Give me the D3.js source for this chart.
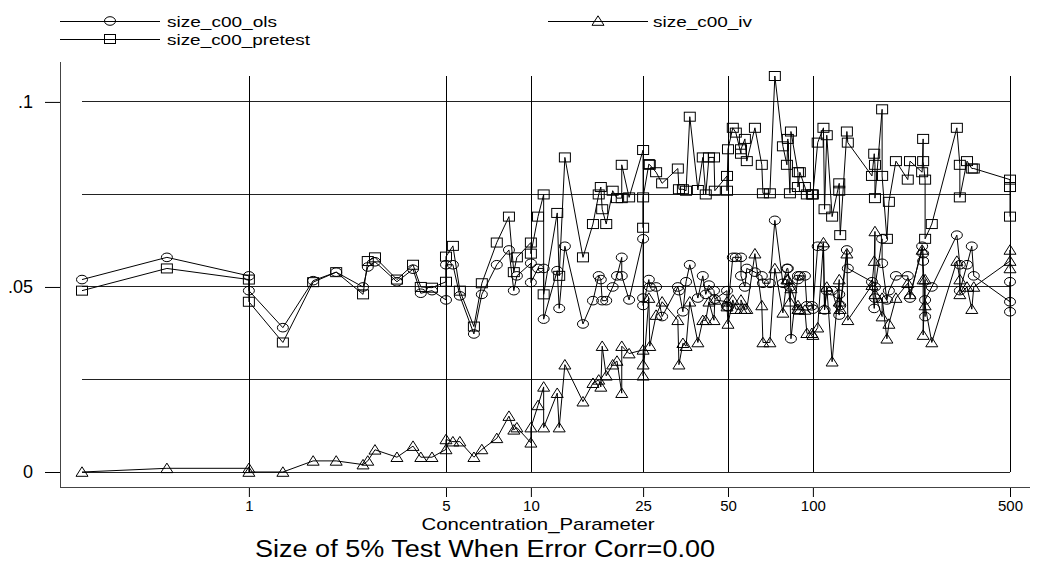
<!DOCTYPE html>
<html><head><meta charset="utf-8">
<script src="https://cdn.jsdelivr.net/npm/d3@7"></script>
<style>body{margin:0;background:#fff} svg{display:block}</style>
</head><body><svg id="c" width="1037" height="566"></svg>
<script>
const conc = [0.256,0.512,1,1,1.32,1.69,2.04,2.54,2.64,2.80,3.35,3.82,4.07,4.46,5,5,5.29,5.60,6.28,6.70,7.57,8.36,8.70,8.92,10,10,10.6,11.1,11.1,12.4,12.6,13.2,15.3,16.6,17.4,17.7,17.9,18.5,19.5,20.2,21.0,21.0,22.3,25,25,25,26.2,26.4,27.8,29.2,33.2,33.5,34.6,35.5,36.6,39.1,40.7,41.7,42.8,44.6,44.9,49.6,49.6,50,52.0,53.3,55.6,55.6,57.4,58.3,62.3,65.9,66.5,70.4,73.3,78.3,80.9,81.5,82.9,83.6,88.5,88.5,89.9,93.7,95.2,99.2,100,104,109,110,112,117,124,124,125,132,133,162,165,166,166,176,176,183,186,197,217,221,244,246,246,250,250,264,324,332,332,352,366,372,500,500,500];
const sizeOls = [.052,.058,.053,.049,.039,.0517,.054,.050,.0554,.0568,.0514,.0548,.0483,.049,.0465,.056,.056,.0476,.0373,.048,.056,.060,.049,.053,.0564,.0512,.055,.055,.0413,.0544,.0442,.061,.040,.0463,.053,.052,.0463,.0463,.050,.053,.058,.053,.0465,.063,.047,.045,.052,.050,.050,.042,.050,.049,.0433,.0514,.056,.047,.053,.048,.0505,.049,.0467,.049,.0447,.0447,.058,.058,.058,.053,.050,.055,.054,.053,.051,.051,.068,.051,.055,.055,.050,.036,.053,.052,.053,.053,.0449,.0449,.044,.061,.061,.0438,.049,.049,.0424,.048,.045,.060,.055,.0514,.0442,.047,.050,.063,.0564,.0465,.049,.053,.053,.047,.061,.059,.057,.042,.0465,.050,.064,.056,.049,.056,.061,.053,.046,.0514,.0433];
const sizePretest = [.049,.055,.052,.046,.035,.0513,.054,.048,.057,.058,.052,.056,.050,.0498,.0514,.0582,.0611,.049,.0393,.051,.062,.069,.054,.058,.062,.059,.069,.075,.048,.070,.053,.085,.058,.067,.075,.077,.071,.067,.076,.074,.074,.083,.0742,.087,.066,.0742,.0832,.083,.081,.078,.082,.0764,.0764,.076,.096,.0762,.085,.075,.085,.085,.076,.080,.076,.0872,.093,.0917,.086,.0872,.090,.084,.093,.083,.0753,.0753,.107,.088,.083,.090,.0753,.092,.081,.077,.081,.077,.075,.075,.075,.089,.093,.071,.091,.069,.078,.076,.064,.092,.089,.080,.086,.083,.074,.098,.080,.063,.073,.084,.079,.084,.081,.090,.084,.079,.063,.067,.093,.083,.0742,.084,.082,.082,.079,.077,.069];
const sizeIv = [0,.001,.001,0,0,.003,.003,.002,.003,.006,.004,.007,.004,.004,.0061,.0088,.0082,.0082,.004,.0061,.0091,.0151,.0114,.012,.0079,.012,.018,.023,.012,.0213,.012,.029,.019,.024,.0249,.023,.034,.026,.029,.030,.0213,.034,.032,.033,.029,.026,.047,.034,.0424,.046,.041,.029,.0348,.034,.046,.035,.041,.041,.046,.041,.0465,.046,.0447,.040,.0465,.044,.044,.0465,.044,.044,.059,.045,.035,.035,.055,.043,.052,.052,.046,.0496,.044,.045,.0438,.0438,.0375,.0375,.037,.039,.062,.044,.050,.0298,.052,.046,.044,.059,.041,.0505,.057,.065,.048,.042,.047,.036,.040,.047,.051,.048,.060,.052,.037,.052,.045,.035,.057,.052,.048,.050,.044,.050,.057,.060,.055];
const xTickValues = [1,5,10,25,50,100,500];
const xTickLabels = ["1","5","10","25","50","100","500"];
const yTickValues = [0,0.05,0.1];
const yTickLabels = ["0",".05",".1"];
const yGridValues = [0,0.025,0.05,0.075,0.1];
const seriesNames = ["size_c00_ols","size_c00_pretest","size_c00_iv"];
const xTitle = "Concentration_Parameter";
const chartTitle = "Size of 5% Test When Error Corr=0.00";

const svg = d3.select("#c");
const FONT = "'Liberation Sans', Arial, Helvetica, sans-serif";
const x = d3.scaleLog().domain([d3.min(conc), d3.max(conc)]).range([82, 1010]);
const y = d3.scaleLinear().domain([0, d3.max(sizePretest)]).range([472, 76]);

// grid
const g = svg.append("g");
g.selectAll(".hg").data(yGridValues).join("line")
  .attr("x1", x.range()[0]).attr("x2", x.range()[1])
  .attr("y1", d => y(d)).attr("y2", d => y(d))
  .attr("stroke", "#222").attr("stroke-width", 1).attr("shape-rendering","crispEdges");
g.selectAll(".vg").data(xTickValues).join("line")
  .attr("x1", d => Math.round(x(d))+0.5).attr("x2", d => Math.round(x(d))+0.5)
  .attr("y1", y.range()[1]).attr("y2", y(0))
  .attr("stroke", "#000").attr("stroke-width", 1);

// axes
const axisY = d3.axisLeft(y).tickValues(yTickValues).tickSize(15).tickPadding(12)
  .tickFormat((d,i) => yTickLabels[i]);
const ay = svg.append("g").attr("transform","translate(60,0)").call(axisY);
ay.select(".domain").remove();
ay.selectAll("text").attr("font-family", FONT).attr("font-size", 18).attr("fill","#000");
ay.selectAll("line").attr("stroke","#000");
svg.append("line").attr("x1",60.5).attr("x2",60.5).attr("y1",62).attr("y2",487.5).attr("stroke","#444");

const axisX = d3.axisBottom(x).tickValues(xTickValues).tickSize(10).tickPadding(3)
  .tickFormat((d,i) => xTickLabels[i]);
const ax = svg.append("g").attr("transform","translate(0,487)").call(axisX);
ax.select(".domain").remove();
ax.selectAll("text").attr("font-family", FONT).attr("font-size", 15).attr("fill","#000");
ax.selectAll("line").attr("stroke","#000");
svg.append("line").attr("x1",60).attr("x2",1030).attr("y1",487.5).attr("y2",487.5).attr("stroke","#444");

svg.append("text").attr("x", 538).attr("y", 530).attr("text-anchor","middle")
  .attr("font-family", FONT).attr("font-size", 17)
  .attr("textLength", 233).attr("lengthAdjust", "spacingAndGlyphs").text(xTitle);
svg.append("text").attr("x", 485).attr("y", 557).attr("text-anchor","middle")
  .attr("font-family", FONT).attr("font-size", 23)
  .attr("textLength", 460).attr("lengthAdjust", "spacingAndGlyphs").text(chartTitle);

// markers
function marker(sel, type) {
  if (type === 0) return sel.append("ellipse").attr("rx", 5.5).attr("ry", 4.3);
  if (type === 1) return sel.append("rect").attr("x", -5.5).attr("y", -4.5).attr("width", 11).attr("height", 9);
  return sel.append("path").attr("d", "M0,-5.2L6,4.3L-6,4.3Z");
}
const seriesVals = [sizeOls, sizePretest, sizeIv];
const line = d3.line().x(d => x(d[0])).y(d => y(d[1]));
seriesVals.forEach((vals, si) => {
  const pts = conc.map((c, i) => [c, vals[i]]);
  svg.append("path").datum(pts).attr("d", line).attr("fill","none").attr("stroke","#000").attr("stroke-width",1);
  const mg = svg.append("g");
  pts.forEach(p => {
    const m = mg.append("g").attr("transform", `translate(${x(p[0])},${y(p[1])})`);
    marker(m, si).attr("fill","none").attr("stroke","#000").attr("stroke-width",1);
  });
});

// legend
const legend = [
  {name: seriesNames[0], x0: 60, y0: 21, type: 0, tx: 167, w: 110},
  {name: seriesNames[1], x0: 60, y0: 39, type: 1, tx: 167, w: 143},
  {name: seriesNames[2], x0: 548, y0: 21, type: 2, tx: 653, w: 99}
];
legend.forEach(l => {
  svg.append("line").attr("x1", l.x0).attr("x2", l.x0+100).attr("y1", l.y0+0.5).attr("y2", l.y0+0.5).attr("stroke","#000");
  const m = svg.append("g").attr("transform", `translate(${l.x0+50},${l.y0})`);
  marker(m, l.type).attr("fill","none").attr("stroke","#000");
  svg.append("text").attr("x", l.tx).attr("y", l.y0+5.5).attr("font-family", FONT).attr("font-size", 15.5)
    .attr("textLength", l.w).attr("lengthAdjust", "spacingAndGlyphs").text(l.name);
});
</script></body></html>
